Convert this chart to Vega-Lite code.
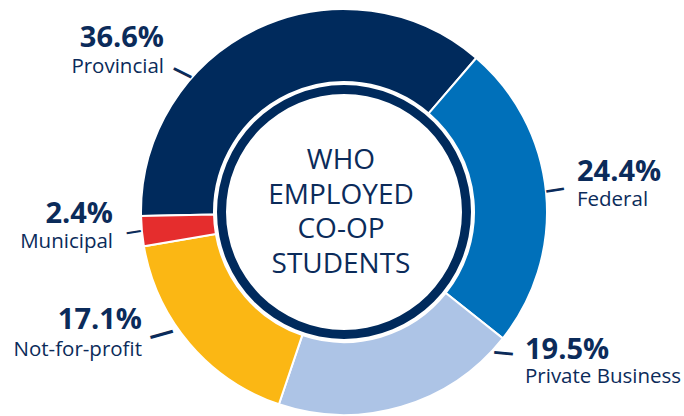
{
  "$schema": "https://vega.github.io/schema/vega-lite/v6.json",
  "width": 680,
  "height": 408,
  "autosize": {"type": "none"},
  "padding": {"left": 4, "top": 8, "right": 0, "bottom": 0},
  "background": "white",
  "config": {"view": {"stroke": null}},
  "layer": [
    {
      "data": {"values": [{}]},
      "mark": {"type": "arc", "theta": 0, "theta2": 6.2832, "innerRadius": 118, "outerRadius": 127, "color": "#002a5c"}
    },
    {
      "data": {"values": [{}]},
      "mark": {"type": "text", "text": ["WHO", "EMPLOYED", "CO-OP", "STUDENTS"], "font": "Open Sans", "fontSize": 28, "lineHeight": 34.5, "align": "center", "baseline": "alphabetic", "dx": -3, "dy": -43, "color": "#0b2b5a"}
    },
    {
      "data": {"values": [
        {"sector": "Provincial", "share": 0.366},
        {"sector": "Federal", "share": 0.244},
        {"sector": "Private Business", "share": 0.195},
        {"sector": "Not-for-profit", "share": 0.171},
        {"sector": "Municipal", "share": 0.024}
      ]},
      "transform": [
        {"stack": "share", "groupby": [], "sort": [{"field": "share", "order": "descending"}], "as": ["s0", "s1"]}
      ],
      "layer": [
        {
          "mark": {"type": "arc", "innerRadius": 130, "outerRadius": 203, "stroke": "white", "strokeWidth": 2},
          "encoding": {
            "theta": {"field": "s0", "type": "quantitative", "stack": null, "scale": {"domain": [0, 1], "range": [4.6932, 10.9764]}},
            "theta2": {"field": "s1"},
            "color": {"field": "sector", "type": "nominal", "legend": null,
              "scale": {"domain": ["Provincial", "Federal", "Private Business", "Not-for-profit", "Municipal"],
                        "range": ["#002a5c", "#0070ba", "#adc4e6", "#fbb714", "#e52d2d"]}}
          }
        },
        {
          "transform": [{"filter": {"field": "sector", "equal": "Provincial"}}],
          "layer": [
            {"mark": {"type": "text", "radius": 202, "font": "Open Sans", "fontSize": 29, "fontWeight": "bold", "align": "right", "baseline": "alphabetic", "dx": 21.96, "dy": -168.88, "color": "#0b2b5a"},
             "encoding": {"theta": {"field": "s0", "type": "quantitative", "stack": null, "scale": {"domain": [0, 1], "range": [4.6932, 10.9764]}}, "text": {"field": "share", "format": ".1%"}}},
            {"mark": {"type": "text", "radius": 202, "font": "Open Sans", "fontSize": 20.5, "align": "right", "baseline": "alphabetic", "dx": 21.96, "dy": -142.88, "color": "#0b2b5a"},
             "encoding": {"theta": {"field": "s0", "type": "quantitative", "stack": null, "scale": {"domain": [0, 1], "range": [4.6932, 10.9764]}}, "text": {"field": "sector"}}},
            {"mark": {"type": "text", "text": "—", "radius": 202, "font": "DejaVu Sans", "fontWeight": "bold", "fontSize": 22, "angle": 26.57, "align": "center", "baseline": "middle", "dx": -27.71, "dy": -147.01, "color": "#0b2b5a"},
             "encoding": {"theta": {"field": "s0", "type": "quantitative", "stack": null, "scale": {"domain": [0, 1], "range": [4.6932, 10.9764]}}}}
          ]
        },
        {
          "transform": [{"filter": {"field": "sector", "equal": "Federal"}}],
          "layer": [
            {"mark": {"type": "text", "radius": 202, "font": "Open Sans", "fontSize": 29, "fontWeight": "bold", "align": "left", "baseline": "alphabetic", "dx": 101.36, "dy": 122.22, "color": "#0b2b5a"},
             "encoding": {"theta": {"field": "s0", "type": "quantitative", "stack": null, "scale": {"domain": [0, 1], "range": [4.6932, 10.9764]}}, "text": {"field": "share", "format": ".1%"}}},
            {"mark": {"type": "text", "radius": 202, "font": "Open Sans", "fontSize": 20.5, "align": "left", "baseline": "alphabetic", "dx": 101.36, "dy": 147.22, "color": "#0b2b5a"},
             "encoding": {"theta": {"field": "s0", "type": "quantitative", "stack": null, "scale": {"domain": [0, 1], "range": [4.6932, 10.9764]}}, "text": {"field": "sector"}}},
            {"mark": {"type": "text", "text": "—", "radius": 202, "font": "DejaVu Sans", "fontWeight": "bold", "fontSize": 20, "angle": -8.53, "align": "center", "baseline": "middle", "dx": 59.09, "dy": 141.04, "color": "#0b2b5a"},
             "encoding": {"theta": {"field": "s0", "type": "quantitative", "stack": null, "scale": {"domain": [0, 1], "range": [4.6932, 10.9764]}}}}
          ]
        },
        {
          "transform": [{"filter": {"field": "sector", "equal": "Private Business"}}],
          "layer": [
            {"mark": {"type": "text", "radius": 202, "font": "Open Sans", "fontSize": 29, "fontWeight": "bold", "align": "left", "baseline": "alphabetic", "dx": 22.91, "dy": 21.25, "color": "#0b2b5a"},
             "encoding": {"theta": {"field": "s0", "type": "quantitative", "stack": null, "scale": {"domain": [0, 1], "range": [4.6932, 10.9764]}}, "text": {"field": "share", "format": ".1%"}}},
            {"mark": {"type": "text", "radius": 202, "font": "Open Sans", "fontSize": 20.5, "align": "left", "baseline": "alphabetic", "dx": 22.91, "dy": 45.25, "color": "#0b2b5a"},
             "encoding": {"theta": {"field": "s0", "type": "quantitative", "stack": null, "scale": {"domain": [0, 1], "range": [4.6932, 10.9764]}}, "text": {"field": "sector"}}},
            {"mark": {"type": "text", "text": "—", "radius": 202, "font": "DejaVu Sans", "fontWeight": "bold", "fontSize": 21, "angle": 5.44, "align": "center", "baseline": "middle", "dx": 2.85, "dy": 15.05, "color": "#0b2b5a"},
             "encoding": {"theta": {"field": "s0", "type": "quantitative", "stack": null, "scale": {"domain": [0, 1], "range": [4.6932, 10.9764]}}}}
          ]
        },
        {
          "transform": [{"filter": {"field": "sector", "equal": "Not-for-profit"}}],
          "layer": [
            {"mark": {"type": "text", "radius": 202, "font": "Open Sans", "fontSize": 29, "fontWeight": "bold", "align": "right", "baseline": "alphabetic", "dx": -137.24, "dy": -74.34, "color": "#0b2b5a"},
             "encoding": {"theta": {"field": "s0", "type": "quantitative", "stack": null, "scale": {"domain": [0, 1], "range": [4.6932, 10.9764]}}, "text": {"field": "share", "format": ".1%"}}},
            {"mark": {"type": "text", "radius": 202, "font": "Open Sans", "fontSize": 20.5, "align": "right", "baseline": "alphabetic", "dx": -137.24, "dy": -47.34, "color": "#0b2b5a"},
             "encoding": {"theta": {"field": "s0", "type": "quantitative", "stack": null, "scale": {"domain": [0, 1], "range": [4.6932, 10.9764]}}, "text": {"field": "sector"}}},
            {"mark": {"type": "text", "text": "—", "radius": 202, "font": "DejaVu Sans", "fontWeight": "bold", "fontSize": 26, "angle": -15.6, "align": "center", "baseline": "middle", "dx": -94.62, "dy": -98.93, "color": "#0b2b5a"},
             "encoding": {"theta": {"field": "s0", "type": "quantitative", "stack": null, "scale": {"domain": [0, 1], "range": [4.6932, 10.9764]}}}}
          ]
        },
        {
          "transform": [{"filter": {"field": "sector", "equal": "Municipal"}}],
          "layer": [
            {"mark": {"type": "text", "radius": 202, "font": "Open Sans", "fontSize": 29, "fontWeight": "bold", "align": "right", "baseline": "alphabetic", "dx": -31.91, "dy": -23.18, "color": "#0b2b5a"},
             "encoding": {"theta": {"field": "s0", "type": "quantitative", "stack": null, "scale": {"domain": [0, 1], "range": [4.6932, 10.9764]}}, "text": {"field": "share", "format": ".1%"}}},
            {"mark": {"type": "text", "radius": 202, "font": "Open Sans", "fontSize": 20.5, "align": "right", "baseline": "alphabetic", "dx": -31.91, "dy": 1.82, "color": "#0b2b5a"},
             "encoding": {"theta": {"field": "s0", "type": "quantitative", "stack": null, "scale": {"domain": [0, 1], "range": [4.6932, 10.9764]}}, "text": {"field": "sector"}}},
            {"mark": {"type": "text", "text": "—", "radius": 202, "font": "DejaVu Sans", "fontWeight": "bold", "fontSize": 16, "angle": -9, "align": "center", "baseline": "middle", "dx": -8.97, "dy": -16.28, "color": "#0b2b5a"},
             "encoding": {"theta": {"field": "s0", "type": "quantitative", "stack": null, "scale": {"domain": [0, 1], "range": [4.6932, 10.9764]}}}}
          ]
        }
      ]
    }
  ]
}
